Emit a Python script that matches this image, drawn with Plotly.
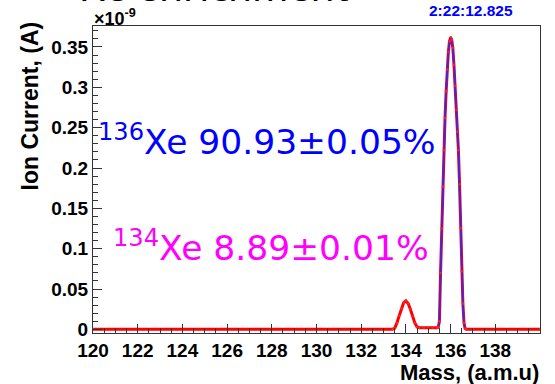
import plotly.graph_objects as go

# Measured ion current (units of 1e-9 A) versus mass
mass = [120.0, 133.4, 133.5, 133.6, 133.7, 133.8, 133.9, 134.0, 134.1, 134.2,
        134.3, 134.4, 134.5, 134.6, 134.8, 135.0, 135.2, 135.4, 135.45, 135.5,
        135.55, 135.6, 135.65, 135.7, 135.75, 135.8, 135.85, 135.9, 135.95,
        136.0, 136.05, 136.1, 136.15, 136.2, 136.25, 136.3, 136.35, 136.4,
        136.45, 136.5, 136.55, 136.6, 136.65, 136.7, 137.0, 140.0]
current = [0.0, 0.0, 0.0015, 0.008, 0.017, 0.026, 0.033, 0.0353, 0.032, 0.025,
           0.016, 0.008, 0.003, 0.002, 0.002, 0.002, 0.002, 0.002, 0.003, 0.010,
           0.070, 0.125, 0.177, 0.222, 0.262, 0.295, 0.322, 0.344, 0.357,
           0.362, 0.359, 0.349, 0.328, 0.302, 0.272, 0.245, 0.222, 0.180,
           0.125, 0.072, 0.032, 0.008, 0.001, 0.0, 0.0, 0.0]

# Fitted curve over the 136Xe peak
fit_mass = [135.45, 135.5, 135.55, 135.6, 135.65, 135.7, 135.75, 135.8, 135.85,
            135.9, 135.95, 136.0, 136.05, 136.1, 136.15, 136.2, 136.25, 136.3,
            136.35, 136.4, 136.45, 136.5, 136.55, 136.6, 136.65]
fit_current = [0.003, 0.010, 0.070, 0.125, 0.177, 0.222, 0.262, 0.295, 0.322,
               0.344, 0.357, 0.362, 0.359, 0.349, 0.328, 0.302, 0.272, 0.245,
               0.222, 0.180, 0.125, 0.072, 0.032, 0.008, 0.001]

x_ticks = [120, 122, 124, 126, 128, 130, 132, 134, 136, 138]
y_ticks = [0, 0.05, 0.1, 0.15, 0.2, 0.25, 0.3, 0.35]
y_tick_text = ["0", "0.05", "0.1", "0.15", "0.2", "0.25", "0.3", "0.35"]

W, H = 555, 384
L, R, T, B = 93, 15, 26, 51


def px(x):
    return (x - L) / (W - L - R)


def py(y):
    return (H - B - y) / (H - T - B)


fig = go.Figure()
fig.add_trace(go.Scatter(x=mass, y=current, mode="lines",
                         line=dict(color="#ff0000", width=3), hoverinfo="skip"))
fig.add_trace(go.Scatter(x=fit_mass, y=fit_current, mode="lines",
                         line=dict(color="#2a2aff", width=1.6), hoverinfo="skip"))
fig.add_trace(go.Scatter(x=mass, y=current, mode="markers",
                         marker=dict(color="#ff2020", size=2.5), hoverinfo="skip"))

tick_font = dict(family="Liberation Sans", size=19, color="black", weight="bold")

fig.update_layout(
    width=W, height=H,
    margin=dict(l=L, r=R, t=T, b=B, pad=0),
    paper_bgcolor="white", plot_bgcolor="white",
    showlegend=False,
    xaxis=dict(range=[120, 140], tickmode="array", tickvals=x_ticks,
               ticks="inside", ticklen=9, tickcolor="#333", tickwidth=1,
               minor=dict(tickmode="linear", tick0=120, dtick=0.5,
                          ticks="inside", ticklen=5, tickcolor="#333"),
               showline=True, linecolor="#333", linewidth=1, mirror=True,
               showgrid=False, zeroline=False, tickfont=tick_font),
    yaxis=dict(range=[-0.0045, 0.376], tickmode="array", tickvals=y_ticks,
               ticktext=y_tick_text,
               ticks="inside", ticklen=9, tickcolor="#333", tickwidth=1,
               minor=dict(tickmode="linear", tick0=0, dtick=0.01,
                          ticks="inside", ticklen=5, tickcolor="#333"),
               showline=True, linecolor="#333", linewidth=1, mirror=True,
               showgrid=False, zeroline=False, tickfont=tick_font),
)

annotations = [
    dict(text="Xe enrichment", x=px(215), y=py(-14), xanchor="center", yanchor="middle",
         font=dict(family="Noto Sans", size=39, color="black")),
    dict(text="×10<sup>-9</sup>", x=px(92), y=py(18), xanchor="left", yanchor="middle",
         font=dict(family="Liberation Sans", size=18, color="black", weight="bold")),
    dict(text="2:22:12.825", x=px(471), y=py(11), xanchor="center", yanchor="middle",
         font=dict(family="Liberation Sans", size=15.5, color="#0000ff", weight="bold")),
    dict(text="Ion Current, (A)", x=px(29), y=py(20), xanchor="center", yanchor="top",
         textangle=-90,
         font=dict(family="Liberation Sans", size=23, color="black", weight="bold")),
    dict(text="Mass, (a.m.u)", x=px(541), y=py(372), xanchor="right", yanchor="middle",
         font=dict(family="Liberation Sans", size=22, color="black", weight="bold")),
    dict(text="<sup>136</sup>Xe 90.93±0.05%", x=px(96), y=py(140), xanchor="left",
         yanchor="middle", font=dict(family="DejaVu Sans", size=34.5, color="#0000ff")),
    dict(text="<sup>134</sup>Xe 8.89±0.01%", x=px(111), y=py(246), xanchor="left",
         yanchor="middle", font=dict(family="DejaVu Sans", size=34.5, color="#ff00ff")),
]
for a in annotations:
    a.update(xref="paper", yref="paper", showarrow=False)
fig.update_layout(annotations=annotations)

fig.write_html("out.html")
